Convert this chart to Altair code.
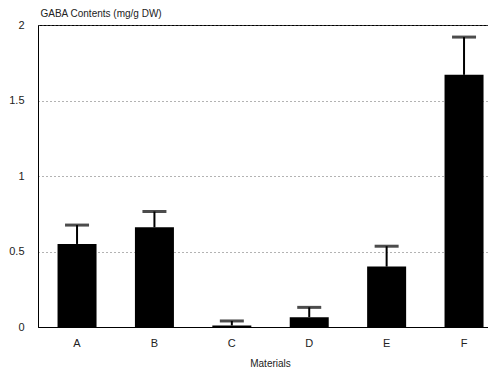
import altair as alt
import pandas as pd

materials = ["A", "B", "C", "D", "E", "F"]
gaba = [0.55, 0.66, 0.01, 0.065, 0.40, 1.67]
err_top = [0.675, 0.765, 0.04, 0.13, 0.535, 1.92]

df = pd.DataFrame({"material": materials, "gaba": gaba, "top": err_top})

font = "Liberation Sans"
xscale = alt.Scale(paddingInner=0.5, paddingOuter=0.157, align=0.81)
x = alt.X("material:N", sort=materials, scale=xscale,
          axis=alt.Axis(title="Materials", labelAngle=0, ticks=False, domain=True,
                        domainColor="black", labelPadding=10, labelFontSize=11,
                        titleFontSize=10, titlePadding=10, labelColor="#222",
                        titleColor="#222", labelFont=font, titleFont=font,
                        titleFontWeight="normal", titleX=232, titleAlign="center"))
y = alt.Y("gaba:Q", scale=alt.Scale(domain=[0, 2]),
          axis=alt.Axis(title="GABA Contents (mg/g DW)", values=[0, 0.5, 1, 1.5, 2],
                        format="~g", ticks=False, labelPadding=14, labelFontSize=11,
                        grid=True, gridDash=[1, 3], gridColor="#666",
                        domainColor="black", labelColor="#222", titleColor="#222",
                        titleAngle=0, titleAlign="left", titleBaseline="alphabetic",
                        titleX=2, titleY=-9, titleFontSize=10, titleFontWeight="normal",
                        labelFont=font, titleFont=font))

bars = alt.Chart(df).mark_bar(color="black", size=39).encode(x=x, y=y)
rules = alt.Chart(df).mark_rule(color="black", strokeWidth=2).encode(
    x=alt.X("material:N", sort=materials, scale=xscale), y="gaba:Q", y2="top:Q")
caps = alt.Chart(df).mark_tick(color="black", thickness=3, size=24, orient="horizontal").encode(
    x=alt.X("material:N", sort=materials, scale=xscale), y="top:Q")

chart = alt.layer(bars, rules, caps).properties(
    width=450, height=302,
    padding={"left": 0, "top": 0, "right": 0, "bottom": 0},
).configure_view(stroke="black", strokeWidth=1)

chart.save("out.html", embed_options={"renderer": "svg", "actions": False})
